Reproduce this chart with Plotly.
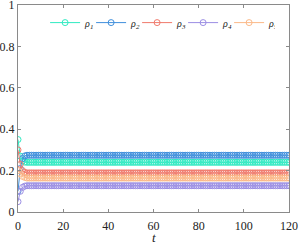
import plotly.graph_objects as go

t = list(range(0, 121))
rho1 = [0.35, 0.27, 0.247, 0.241] + [0.240] * 117
rho2 = [0.10, 0.21, 0.258, 0.271] + [0.274] * 117
rho3 = [0.30, 0.23, 0.20, 0.191] + [0.189] * 117
rho4 = [0.05, 0.10, 0.119, 0.125] + [0.127] * 117
rho5 = [0.20, 0.185, 0.172, 0.167] + [0.164] * 117

names = ["ρ<sub>1</sub>", "ρ<sub>2</sub>", "ρ<sub>3</sub>", "ρ<sub>4</sub>", "ρ<sub>5</sub>"]
colors = ["#30eac2", "#3f8fdc", "#f07a6c", "#9b8ee4", "#fbb988"]
series = [rho1, rho2, rho3, rho4, rho5]

fig = go.Figure()
for name, c, y in zip(names, colors, series):
    fig.add_trace(go.Scatter(
        x=t, y=y, name="<i>" + name + "</i>", mode="lines+markers",
        line=dict(color=c, width=1),
        marker=dict(symbol="circle-open", size=6, color=c, line=dict(width=1, color=c)),
    ))

axis_common = dict(
    showline=True, linecolor="#8a8a8a", linewidth=1, mirror="ticks",
    ticks="inside", ticklen=3, tickcolor="#8a8a8a", showgrid=False, zeroline=False,
    automargin=False, ticklabeloverflow="allow",
    tickfont=dict(family="Liberation Serif", size=12, color="#222"),
)
fig.update_xaxes(range=[0, 120], tickvals=[0, 20, 40, 60, 80, 100, 120],
                 ticklabelstandoff=3, **axis_common)
fig.update_yaxes(range=[0, 1], tickvals=[0, 0.2, 0.4, 0.6, 0.8, 1],
                 ticktext=["0", "0.2", "0.4", "0.6", "0.8", "1"], **axis_common)

fig.add_annotation(text="<i>t</i>", xref="paper", yref="paper", x=0.5, y=-0.121,
                   xanchor="center", yanchor="middle", showarrow=False,
                   font=dict(family="Liberation Serif", size=13, color="#222"))

fig.update_layout(
    width=299, height=244,
    margin=dict(l=18, r=10, t=5, b=32),
    paper_bgcolor="white", plot_bgcolor="white",
    showlegend=True,
    legend=dict(orientation="h", x=0.10, xanchor="left", y=0.985, yanchor="top",
                bgcolor="rgba(0,0,0,0)", font=dict(family="Liberation Serif", size=10, color="#222"),
                itemwidth=30, entrywidth=1, tracegroupgap=0),
)
fig.write_html("out.html", config={"displayModeBar": False},
               post_script="document.body.style.margin='0';document.body.style.padding='0';")
